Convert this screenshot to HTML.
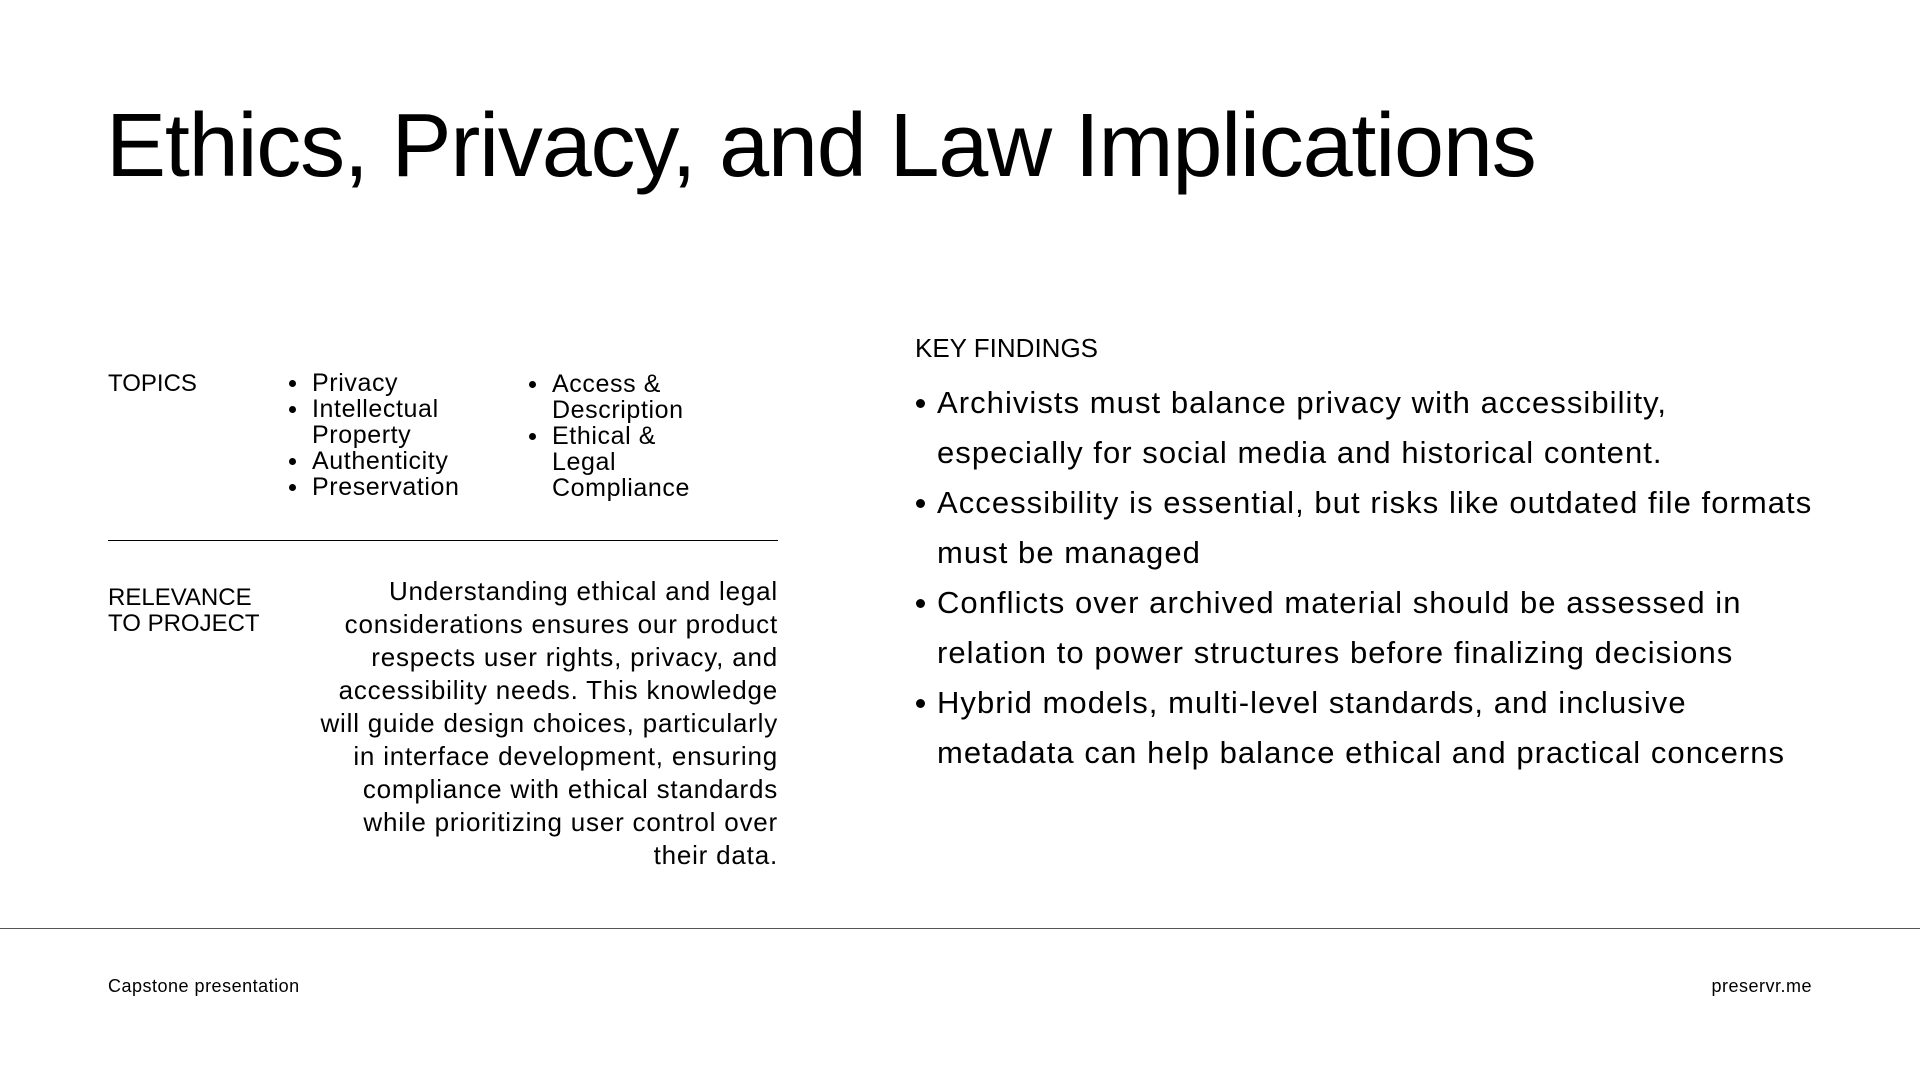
<!DOCTYPE html>
<html><head><meta charset="utf-8"><style>
*{margin:0;padding:0;box-sizing:border-box}
body{width:1920px;height:1080px;background:#fff;color:#000;font-family:"Liberation Sans",sans-serif;position:relative;overflow:hidden}
.a{position:absolute;white-space:nowrap}
ul{list-style:none}
li{position:relative}
li::before{content:"";position:absolute;border-radius:50%;background:#000}
.small li{font-size:25px;line-height:26px;padding-left:23px;letter-spacing:0.6px}
.small li::before{width:7px;height:7px;left:0;top:10px}
.big li{font-size:31px;line-height:50px;padding-left:21px}
.big li::before{width:9px;height:9px;left:0;top:21px}
</style></head><body>
<div class="a" style="left:106px;top:95px;font-size:90px;letter-spacing:-1.2px">Ethics, Privacy, and Law Implications</div>
<div class="a" style="left:108px;top:370px;font-size:24px">TOPICS</div>
<ul class="a small" style="left:289px;top:370px">
<li>Privacy</li>
<li>Intellectual<br>Property</li>
<li>Authenticity</li>
<li>Preservation</li>
</ul>
<ul class="a small" style="left:529px;top:371px">
<li>Access &amp;<br>Description</li>
<li>Ethical &amp;<br>Legal<br>Compliance</li>
</ul>
<div class="a" style="left:108px;top:540px;width:670px;height:1px;background:#000"></div>
<div class="a" style="left:108px;top:585px;font-size:24px;line-height:26px">RELEVANCE<br>TO PROJECT</div>
<div class="a" style="right:1142px;top:575px;font-size:26px;line-height:33px;text-align:right;letter-spacing:0.8px">Understanding ethical and legal<br>considerations ensures our product<br>respects user rights, privacy, and<br>accessibility needs. This knowledge<br>will guide design choices, particularly<br>in interface development, ensuring<br>compliance with ethical standards<br>while prioritizing user control over<br>their data.</div>
<div class="a" style="left:915px;top:333px;font-size:26px">KEY FINDINGS</div>
<ul class="a big" style="left:916px;top:378px;letter-spacing:1.05px">
<li>Archivists must balance privacy with accessibility,<br>especially for social media and historical content.</li>
<li>Accessibility is essential, but risks like outdated file formats<br>must be managed</li>
<li>Conflicts over archived material should be assessed in<br>relation to power structures before finalizing decisions</li>
<li>Hybrid models, multi-level standards, and inclusive<br>metadata can help balance ethical and practical concerns</li>
</ul>
<div class="a" style="left:0;top:928px;width:1920px;height:1px;background:#555"></div>
<div class="a" style="left:108px;top:976px;font-size:18px;letter-spacing:0.5px">Capstone presentation</div>
<div class="a" style="right:108px;top:976px;font-size:18px;letter-spacing:0.5px">preservr.me</div>
</body></html>
